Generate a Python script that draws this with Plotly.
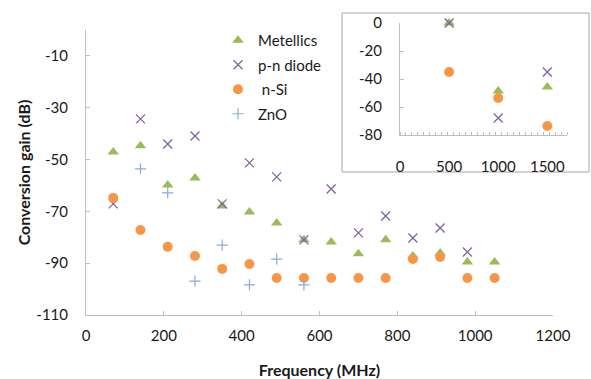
import plotly.graph_objects as go

# ---- main chart data ----
freq = [70, 140, 210, 280, 350, 420, 490, 560, 630, 700, 770, 840, 910, 980, 1050]
metellics = [-47.1, -44.7, -59.8, -57.1, -67.9, -70.2, -74.5, -81.0, -81.8, -86.4, -81.0, -87.2, -86.1, -89.5, -89.5]
pn_freq = [70, 140, 210, 280, 350, 420, 490, 560, 630, 700, 770, 840, 910, 980]
pn_diode = [-67.1, -34.3, -44.0, -40.9, -67.1, -51.3, -56.7, -81.0, -61.4, -78.3, -71.8, -80.3, -76.4, -85.7]
nsi = [-64.8, -77.2, -83.7, -87.2, -92.2, -90.3, -95.7, -95.7, -95.7, -95.7, -95.7, -88.4, -87.6, -95.7, -95.7]
zno_freq = [140, 210, 280, 350, 420, 490, 560]
zno = [-53.6, -62.9, -96.9, -83.0, -98.4, -88.4, -98.4]

# ---- inset data ----
in_freq = [500, 1000, 1500]
in_metellics = [0, -48.6, -45.7]
in_pn = [0, -67.9, -35.0]
in_nsi = [-35.0, -53.6, -73.6]

x_ticks = [0, 200, 400, 600, 800, 1000, 1200]
y_ticks = [-110, -90, -70, -50, -30, -10]
y_labels = ["-110", "-90", "-70", "-50", "-30", "-10"]
in_x_ticks = [0, 500, 1000, 1500]
in_y_ticks = [0, -20, -40, -60, -80]
in_y_labels = ["0", "-20", "-40", "-60", "-80"]

GREEN = "#9BBB59"
PURPLE = "#8064A2"
ORANGE = "#F79646"
BLUE = "#8EA9DB"
AXC = "#BFBFBF"
FONT = "Lato"

m_tri = dict(symbol="triangle-up", size=10, color=GREEN)
m_x = dict(symbol="x-thin-open", size=9, color=PURPLE, line=dict(color=PURPLE, width=1.3))
m_circ = dict(symbol="circle", size=10, color=ORANGE)
m_plus = dict(symbol="cross-thin-open", size=8, color=BLUE, line=dict(color=BLUE, width=1.2))

fig = go.Figure()
fig.add_trace(go.Scatter(x=freq, y=metellics, mode="markers", name="Metellics", marker=m_tri, legendgroup="a"))
fig.add_trace(go.Scatter(x=pn_freq, y=pn_diode, mode="markers", name="p-n diode", marker=m_x, legendgroup="b"))
fig.add_trace(go.Scatter(x=freq, y=nsi, mode="markers", name=" n-Si", marker=m_circ, legendgroup="c"))
fig.add_trace(go.Scatter(x=zno_freq, y=zno, mode="markers", name="ZnO", marker=m_plus, legendgroup="d"))

for ys, mk in [(in_metellics, m_tri), (in_pn, m_x), (in_nsi, m_circ)]:
    fig.add_trace(go.Scatter(x=in_freq, y=ys, mode="markers", marker=mk, showlegend=False,
                             xaxis="x2", yaxis="y2", cliponaxis=False))

W, H = 591, 379
ML, MR, MT, MB = 86, 10, 10, 64
PW, PH = W - ML - MR, H - MT - MB


def px_x(p):
    return (p - ML) / PW


def px_y(p):
    return (H - MB - p) / PH


fig.update_layout(
    width=W, height=H,
    margin=dict(l=ML, r=MR, t=MT, b=MB, autoexpand=False),
    paper_bgcolor="white", plot_bgcolor="white",
    font=dict(family=FONT, size=15, color="#1a1a1a"),
    showlegend=True,
    legend=dict(x=px_x(218), y=px_y(24), xanchor="left", yanchor="top",
                bgcolor="rgba(0,0,0,0)", font=dict(size=15), tracegroupgap=2,
                traceorder="grouped"),
    xaxis=dict(domain=[0, px_x(553)], range=[0, 1200], tickvals=x_ticks,
               showline=True, linecolor=AXC, linewidth=1, ticks="inside", ticklen=4,
               tickcolor=AXC, showgrid=False, zeroline=False, ticklabelstandoff=7,
               automargin=False,
               title=dict(text="<b>Frequency (MHz)</b>", font=dict(size=16), standoff=27)),
    yaxis=dict(domain=[0, px_y(30)], range=[-110, 0], tickvals=y_ticks, ticktext=y_labels,
               showline=True, linecolor=AXC, linewidth=1, ticks="inside", ticklen=4,
               tickcolor=AXC, showgrid=False, zeroline=False, ticklabelstandoff=14,
               automargin=False,
               title=dict(text="<b>Conversion gain (dB)</b>", font=dict(size=16), standoff=1)),
    xaxis2=dict(domain=[px_x(400), px_x(567)], range=[0, 1700], tickvals=in_x_ticks,
                anchor="y2", showline=True, linecolor=AXC, linewidth=1, ticks="",
                minor=dict(dtick=1700 / 28, tick0=0, ticks="inside", ticklen=3, tickcolor=AXC),
                showgrid=False, zeroline=False, ticklabelstandoff=18, automargin=False),
    yaxis2=dict(domain=[px_y(135), px_y(23)], range=[-80, 0], tickvals=in_y_ticks,
                ticktext=in_y_labels,
                anchor="x2", showline=True, linecolor=AXC, linewidth=1, ticks="inside", ticklen=4,
                tickcolor=AXC, showgrid=False, zeroline=False, ticklabelstandoff=14,
                automargin=False),
    shapes=[dict(type="rect", xref="paper", yref="paper",
                 x0=px_x(342), x1=px_x(589), y0=px_y(172), y1=px_y(13),
                 line=dict(color="#A6A6A6", width=1), fillcolor="rgba(0,0,0,0)", layer="below")],
)

fig.write_html("out.html", config={"displayModeBar": False},
               post_script="document.body.style.margin='0px';")
